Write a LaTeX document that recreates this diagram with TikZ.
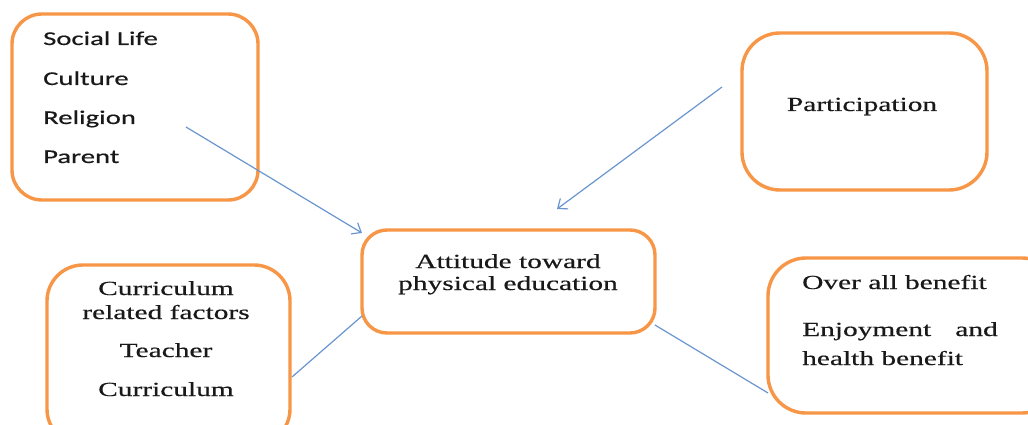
\documentclass[tikz,border=0pt]{standalone}
\usepackage{fontspec}
\setmainfont{Liberation Serif}
\newfontfamily\tmsfont[FakeStretch=1.47,FakeBold=0.5]{Liberation Serif}
\newfontfamily\calibfont[FakeStretch=1.47,FakeBold=0.5]{Carlito}
\usetikzlibrary{arrows.meta}
\definecolor{boxorange}{RGB}{247,150,70}
\definecolor{linkblue}{RGB}{106,150,208}
\definecolor{txt}{RGB}{25,25,25}
\tikzset{
  box/.style={draw=boxorange, line width=3.4pt, fill=white, inner sep=0pt},
  serif/.style={font=\tmsfont\fontsize{20}{23}\selectfont, text=txt, inner sep=0pt},
  sans/.style={font=\calibfont\fontsize{19.5}{23}\selectfont, text=txt, inner sep=0pt},
  link/.style={draw=linkblue, line width=1.2pt},
  arrowlink/.style={link, -{Straight Barb[length=8pt,width=13pt,line width=1.2pt]}}
}
\begin{document}
\begin{tikzpicture}[x=1pt,y=-1pt]
\useasboundingbox (0,0) rectangle (1028,425);
\fill[white] (0,0) rectangle (1028,425);
\begin{scope}
\clip (0,0) rectangle (1028,425);
% boxes
\node[box, rounded corners=30pt, minimum width=246pt, minimum height=186pt] (soc) at (135,107) {};
\node[box, rounded corners=25pt, minimum width=293pt, minimum height=103pt] (att) at (508.5,281.5) {};
\node[box, rounded corners=38pt, minimum width=245pt, minimum height=157pt] (par) at (864.5,111.5) {};
\node[box, rounded corners=36pt, minimum width=243pt, minimum height=180pt] (cur) at (168.5,355) {};
\node[box, rounded corners=38pt, minimum width=292pt, minimum height=155pt] (ben) at (914,335.5) {};
% connector end points
\coordinate (a1s) at (186,127);
\coordinate (a1e) at (362,233);
\coordinate (a2s) at (722,87);
\coordinate (a2e) at (557,209);
\coordinate (l3s) at (292,377);
\coordinate (l3e) at (362,316);
\coordinate (l4s) at (655,325);
\coordinate (l4e) at (768,393);
\draw[arrowlink] (a1s) -- (a1e);
\draw[arrowlink] (a2s) -- (a2e);
\draw[link] (l3s) -- (l3e);
\draw[link] (l4s) -- (l4e);
% texts
\node[sans, anchor=base west] (t1) at (43,45) {Social Life};
\node[sans, anchor=base west] (t2) at (43,85) {Culture};
\node[sans, anchor=base west] (t3) at (43,124) {Religion};
\node[sans, anchor=base west] (t4) at (43,163) {Parent};
\node[serif, anchor=base] (t5) at (508,268) {Attitude toward};
\node[serif, anchor=base] (t6) at (508,290) {physical education};
\node[serif, anchor=base] (t7) at (862,111) {Participation};
\node[serif, anchor=base] (t8) at (166,295) {Curriculum};
\node[serif, anchor=base] (t9) at (166,319) {related factors};
\node[serif, anchor=base] (t10) at (166,357) {Teacher};
\node[serif, anchor=base] (t11) at (166,396) {Curriculum};
\node[serif, anchor=base west] (t12) at (802,289) {Over all benefit};
\node[serif, anchor=base west] (t13) at (802,336) {Enjoyment};
\node[serif, anchor=base east] (t14) at (998,336) {and};
\node[serif, anchor=base west] (t15) at (802,365) {health benefit};
\end{scope}
\end{tikzpicture}
\end{document}
